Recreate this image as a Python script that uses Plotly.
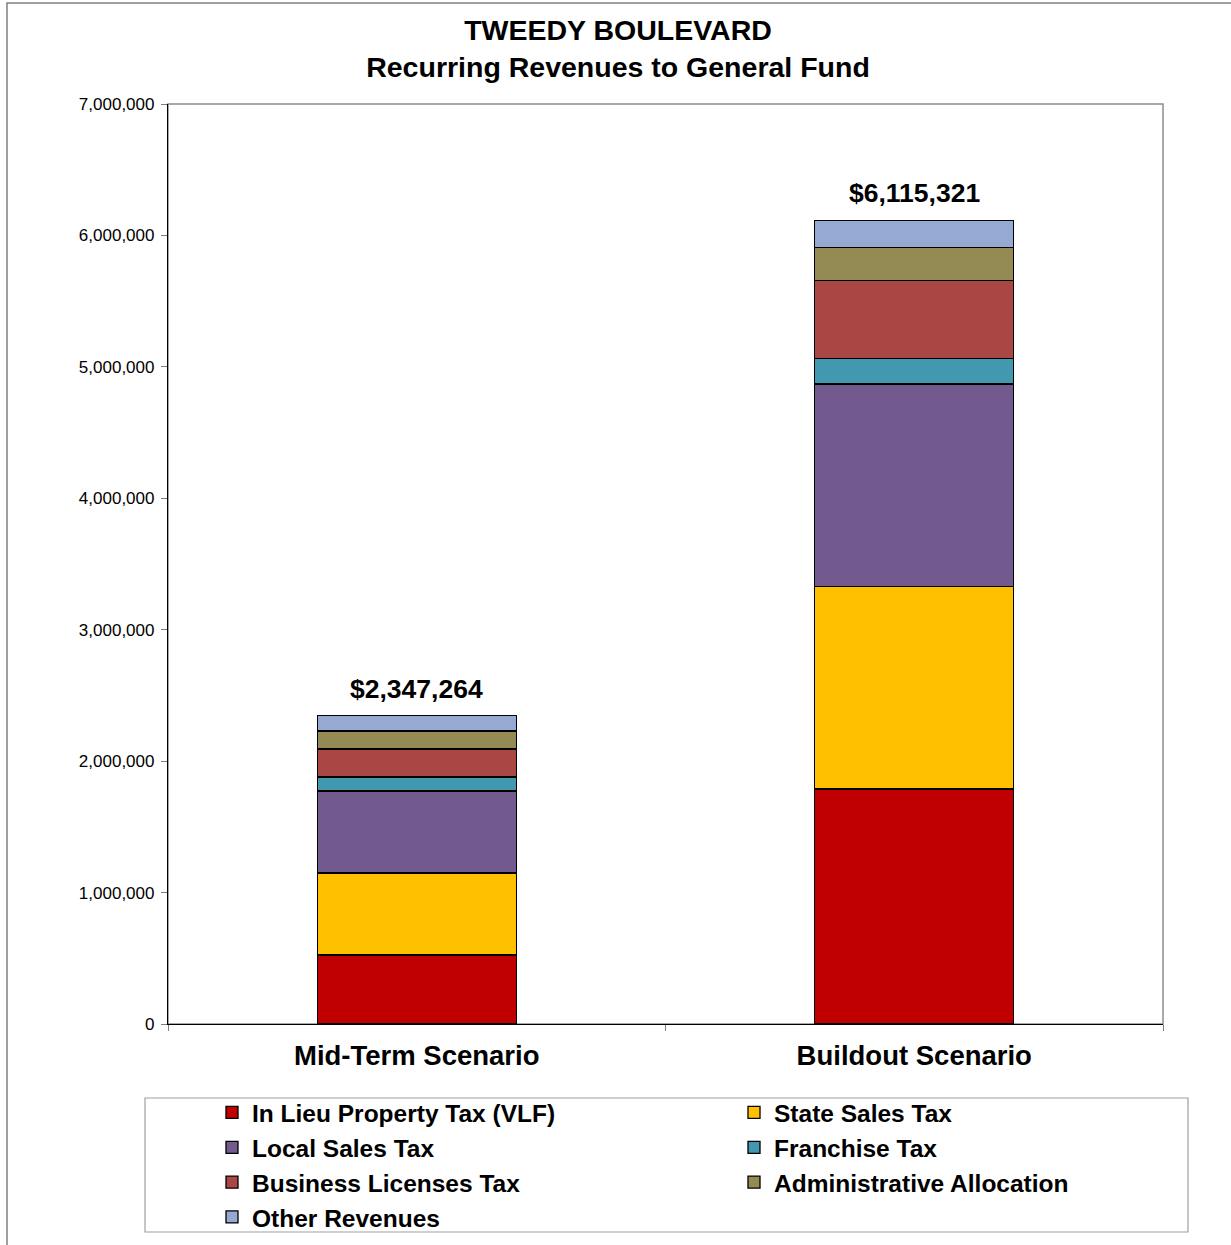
import plotly.graph_objects as go

# Scenarios along the x axis
scenarios = ["Mid-Term Scenario", "Buildout Scenario"]

# Recurring revenue components (dollars), bottom to top of each stack
in_lieu_vlf = [525000, 1788000]
state_sales = [623900, 1542300]
local_sales = [623900, 1539200]
franchise = [106500, 195500]
business_licenses = [213100, 593500]
admin_allocation = [136900, 251100]
other_revenues = [117964, 205721]

series_names = [
    "In Lieu Property Tax (VLF)",
    "State Sales Tax",
    "Local Sales Tax",
    "Franchise Tax",
    "Business Licenses Tax",
    "Administrative Allocation",
    "Other Revenues",
]
series_values = [in_lieu_vlf, state_sales, local_sales, franchise,
                 business_licenses, admin_allocation, other_revenues]
series_colors = ["#C00000", "#FFC000", "#725A8F", "#4298AF",
                 "#AA4644", "#948A54", "#95A9D2"]
# left legend column / right legend column
series_legend = ["legend", "legend2", "legend", "legend2",
                 "legend", "legend2", "legend"]

FONT = "Liberation Sans, Arial, sans-serif"

fig = go.Figure()
for name, vals, color, lg in zip(series_names, series_values, series_colors, series_legend):
    fig.add_trace(go.Bar(
        x=scenarios, y=vals, name=name, legend=lg,
        marker=dict(color=color, line=dict(color="#000000", width=1.3)),
        width=0.4,
    ))

# Totals shown above each stack
totals = [sum(v[i] for v in series_values) for i in range(len(scenarios))]
for cat, tot in zip(scenarios, totals):
    fig.add_annotation(
        x=cat, y=tot, xref="x", yref="y", text=f"<b>${tot:,.0f}</b>",
        showarrow=False, yanchor="middle", yshift=27,
        font=dict(family=FONT, size=26.5, color="#000000"),
    )

W, H = 1231, 1245
L, R, T, B = 168, 68, 104, 221
pw, ph = W - L - R, H - T - B


def px_x(x):
    return (x - L) / pw


def px_y(y):
    return (H - B - y) / ph


shapes = [
    # outer chart border
    dict(type="rect", xref="paper", yref="paper",
         x0=px_x(7), x1=px_x(1245), y0=px_y(1260), y1=px_y(3),
         line=dict(color="#808080", width=1.5), layer="below"),
    # plot area frame
    dict(type="rect", xref="paper", yref="paper", x0=0, x1=1, y0=0, y1=1,
         line=dict(color="#8C8C8C", width=1.5), layer="below"),
    # legend frame
    dict(type="rect", xref="paper", yref="paper",
         x0=px_x(145), x1=px_x(1188), y0=px_y(1232), y1=px_y(1098),
         line=dict(color="#A0A0A0", width=1.2), layer="below"),
]

legend_font = dict(family=FONT, size=24.5, color="#000000", weight="bold")
legend_common = dict(
    orientation="v", traceorder="normal", bgcolor="rgba(0,0,0,0)",
    borderwidth=0, font=legend_font, xanchor="left", yanchor="top",
    itemclick=False, itemdoubleclick=False,
)

fig.update_layout(
    width=W, height=H,
    margin=dict(l=L, r=R, t=T, b=B, autoexpand=False),
    paper_bgcolor="#FFFFFF", plot_bgcolor="#FFFFFF",
    barmode="stack",
    bargap=0.6,
    font=dict(family=FONT, color="#000000"),
    title=dict(
        text="<b>TWEEDY BOULEVARD<br>Recurring Revenues to General Fund</b>",
        x=618 / W, xanchor="center", xref="container",
        y=1 - 39.5 / H, yanchor="middle", yref="container",
        font=dict(family=FONT, size=28.5, color="#000000"),
    ),
    xaxis=dict(
        type="category", range=[-0.5, 1.5],
        showline=True, linecolor="#000000", linewidth=1.2,
        ticks="outside", tickson="boundaries", ticklen=6,
        tickcolor="#808080", tickwidth=1,
        tickfont=dict(family=FONT, size=27.5, color="#000000"),
        tickprefix="<b>", ticksuffix="</b>",
        ticklabelstandoff=7,
        showgrid=False, zeroline=False,
    ),
    yaxis=dict(
        range=[0, 7000000], dtick=1000000, tick0=0,
        tickformat=",d",
        showline=True, linecolor="#000000", linewidth=1.2,
        ticks="outside", ticklen=6, tickcolor="#808080", tickwidth=1,
        tickfont=dict(family=FONT, size=17, color="#000000"),
        ticklabelstandoff=3,
        showgrid=False, zeroline=False,
    ),
    legend=dict(x=px_x(212), y=px_y(1090), **legend_common),
    legend2=dict(x=px_x(734), y=px_y(1090), **legend_common),
    shapes=shapes,
    showlegend=True,
)

fig.write_html("out.html")
